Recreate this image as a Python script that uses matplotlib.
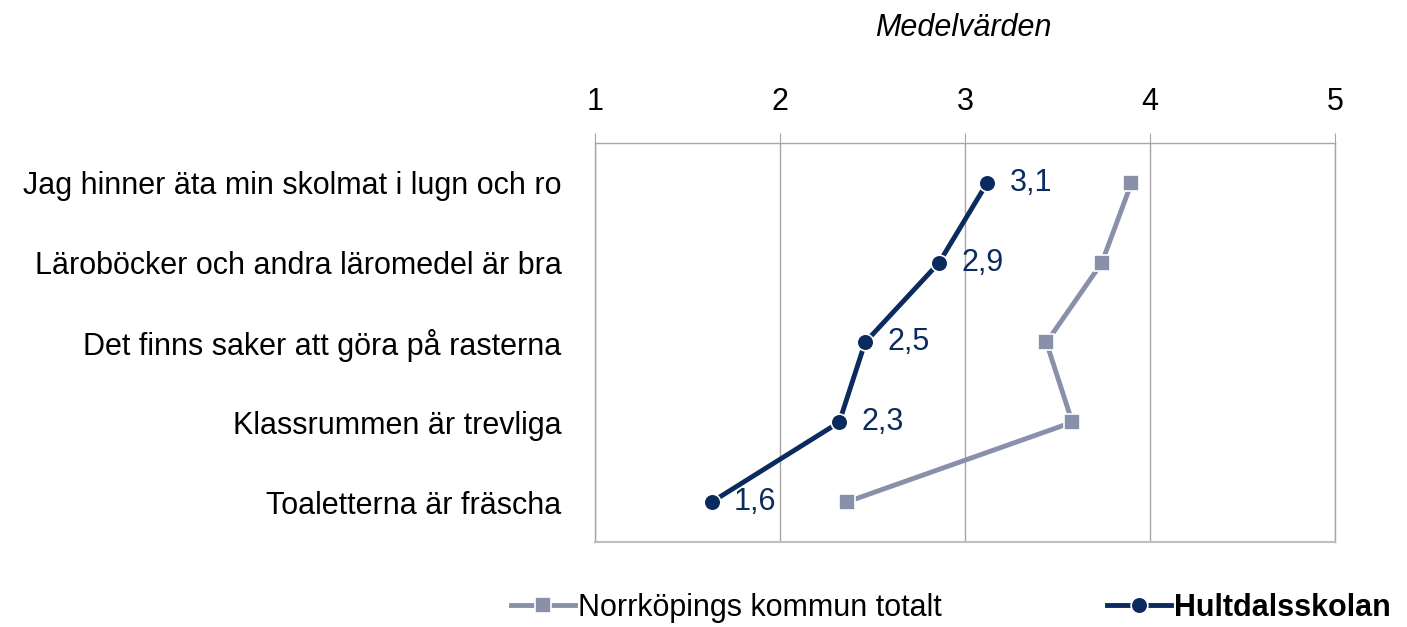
import numpy as np
import matplotlib.pyplot as plt

plt.rcParams['font.family'] = ['Liberation Sans', 'DejaVu Sans']

# Data
kategorier = [
    "Jag hinner äta min skolmat i lugn och ro",
    "Läroböcker och andra läromedel är bra",
    "Det finns saker att göra på rasterna",
    "Klassrummen är trevliga",
    "Toaletterna är fräscha",
]
hultdal = [3.12, 2.86, 2.46, 2.32, 1.63]
norrkoping = [3.90, 3.74, 3.44, 3.58, 2.36]
x_ticks = [1, 2, 3, 4, 5]

navy = '#0b2a5e'
grey = '#8890aa'
fs = 22

fig = plt.figure(figsize=(14.07, 6.27), dpi=100)
ax = fig.add_axes([0.4229, 0.1356, 0.5259, 0.6364])

y = np.arange(len(kategorier))

ax.plot(norrkoping, y, color=grey, lw=3.5, marker='s', ms=12,
        markeredgecolor='white', markeredgewidth=1.2,
        label='Norrköpings kommun totalt', zorder=3)
ax.plot(hultdal, y, color=navy, lw=3.5, marker='o', ms=12,
        markeredgecolor='white', markeredgewidth=1.2,
        label='Hultdalsskolan', zorder=4)

# dataetiketter for skolan
for xv, yv in zip(hultdal, y):
    ax.annotate(f"{xv:.1f}".replace('.', ','), (xv, yv), xytext=(16, 0),
                textcoords='offset points', ha='left', va='center',
                fontsize=fs, color=navy, zorder=5)

ax.set_xlim(1, 5)
ax.set_ylim(len(kategorier) - 0.5, -0.5)
ax.set_xticks(x_ticks)
ax.set_xticklabels([str(t) for t in x_ticks], fontsize=fs)
ax.xaxis.tick_top()
ax.tick_params(axis='x', length=7, color='#a6a6a6', pad=12)
ax.set_yticks(y)
ax.set_yticklabels(kategorier, fontsize=fs)
ax.tick_params(axis='y', length=0, pad=24)
ax.grid(axis='x', color='#a6a6a6', lw=1)
for s in ax.spines.values():
    s.set_color('#a6a6a6')
    s.set_linewidth(1)
ax.spines['bottom'].set_linewidth(1.5)
ax.spines['bottom'].set_color('#bdbdbd')

fig.text(0.6845, 0.955, 'Medelvärden', fontsize=fs, style='italic',
         ha='center', va='center')

handles, labels = ax.get_legend_handles_labels()
leg = fig.legend(handles, labels, loc='center', bbox_to_anchor=(0.676, 0.03),
                 ncol=2, frameon=False, fontsize=fs, handlelength=2.1,
                 handletextpad=0.1, columnspacing=5.4)
leg.get_texts()[1].set_fontweight('bold')

fig.savefig('out.png', dpi=100)
